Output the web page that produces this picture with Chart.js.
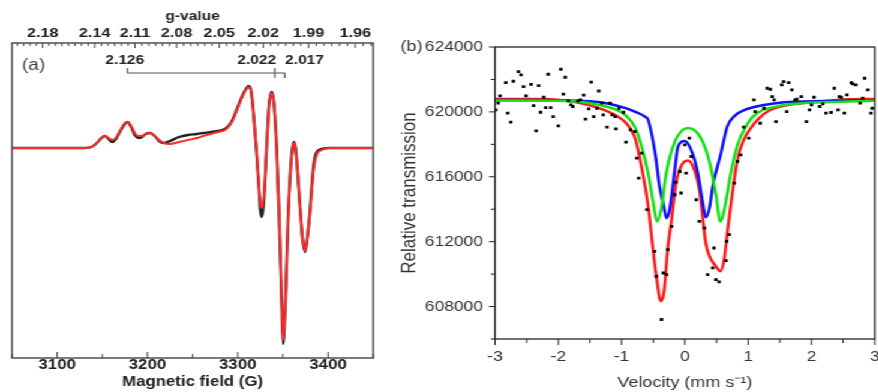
<!DOCTYPE html>
<html>
<head>
<meta charset="utf-8">
<script src="https://cdn.jsdelivr.net/npm/chart.js@4.4.1/dist/chart.umd.min.js"></script>
<style>
html, body { margin: 0; padding: 0; background: #fff; overflow: hidden; width: 878px; height: 392px; }
/* the source figure is stretched sideways, so the whole thing is drawn narrow and widened */
#wrap { position: absolute; left: 0; top: 0; width: 742px; height: 392px; transform: scaleX(1.2); transform-origin: 0 0; }
#epr { position: absolute; left: 0; top: 0; }
#moss { position: absolute; left: 325px; top: 0; }
</style>
</head>
<body>
<div id="wrap">
<canvas id="epr" width="325" height="392" style="width:325px;height:392px"></canvas>
<canvas id="moss" width="417" height="392" style="width:417px;height:392px"></canvas>
</div>
<script>
// ---- (a) EPR spectrum ----
var fieldG = [3050, 3100, 3130, 3138, 3144, 3149, 3153, 3157, 3161, 3165,
    3170, 3174, 3178, 3182, 3186, 3190, 3194, 3198, 3203, 3208,
    3213, 3218, 3225, 3235, 3245, 3255, 3262, 3270, 3278, 3286,
    3293, 3300, 3306, 3309, 3312, 3315, 3318, 3321, 3323.5, 3325,
    3326.5, 3328, 3329.5, 3332, 3334.5, 3336, 3337.6, 3339, 3340.5, 3343,
    3345.7, 3348, 3349.3, 3350.4, 3351.6, 3353, 3356, 3359, 3360.7, 3362.3,
    3364, 3365.3, 3369, 3371.5, 3374.5, 3377, 3380, 3383.7, 3387.4, 3393,
    3400, 3450];
var simSignal = [0, 0, 0, 1, 5, 10, 12, 10, 8, 10,
    18, 24, 26, 22, 15, 12, 12, 14, 15, 12,
    8, 5, 4, 6, 8, 10, 12, 14, 16, 18,
    25, 40, 53, 58, 61, 55, 28, -5, -39, -54,
    -60, -55, -42, 1, 41, 52, 55, 52, 41, 1,
    -65, -132, -175, -192, -178, -149, -65, -15, 0, 5,
    0, -12, -59, -88, -103, -90, -65, -25, -7, -2,
    0, 0];
var expSignal = [0, 0, 0, 1, 5, 10, 12, 9, 6, 9,
    17, 23, 26, 21, 13, 10, 11, 14, 15, 12,
    7, 5, 7, 11, 13, 14, 15, 16, 17, 19,
    26, 41, 54, 59, 62, 56, 28, -6, -41, -62,
    -69, -62, -45, 1, 41, 52, 56, 52, 41, 1,
    -65, -133, -177, -196, -180, -150, -64, -14, 1, 6,
    0, -12, -59, -89, -104, -90, -63, -20, -4, -1,
    0, 0];
var fieldTicks = [3100, 3200, 3300, 3400];
var gTicks = [2.18, 2.14, 2.11, 2.08, 2.05, 2.02, 1.99, 1.96];
var gFactor = 6723; // field (G) = gFactor / g
var markText = ['2.126', '2.022', '2.017'];
var markTextField = [3175, 3321, 3374];
var bracketField = [3178, 3341, 3352];

// ---- (b) Mossbauer spectrum ----
var dataVel = [-2.99, -2.95, -2.92, -2.83, -2.80, -2.75, -2.71, -2.63, -2.59, -2.55,
    -2.51, -2.43, -2.39, -2.35, -2.31, -2.28, -2.23, -2.20, -2.16, -2.12,
    -2.08, -2.00, -1.96, -1.92, -1.89, -1.84, -1.80, -1.77, -1.69, -1.65,
    -1.60, -1.57, -1.52, -1.48, -1.44, -1.39, -1.36, -1.31, -1.29, -1.23,
    -1.18, -1.15, -1.10, -1.09, -1.04, -0.97, -0.93, -0.86, -0.79, -0.76,
    -0.73, -0.68, -0.60, -0.48, -0.45, -0.37, -0.34, -0.29, -0.27, -0.21,
    -0.16, -0.14, -0.08, -0.06, 0.00, 0.02, 0.07, 0.10, 0.18, 0.23,
    0.31, 0.36, 0.44, 0.46, 0.49, 0.54, 0.65, 0.66, 0.70, 0.78,
    0.83, 0.88, 0.93, 1.01, 1.09, 1.11, 1.19, 1.25, 1.30, 1.35,
    1.38, 1.41, 1.44, 1.53, 1.56, 1.61, 1.64, 1.69, 1.74, 1.77,
    1.84, 1.92, 1.97, 2.00, 2.04, 2.13, 2.18, 2.23, 2.31, 2.36,
    2.42, 2.44, 2.47, 2.52, 2.56, 2.63, 2.65, 2.70, 2.77, 2.81,
    2.84, 2.89, 2.94, 2.96];
var dataTrans = [620123, 620535, 620985, 621800, 619920, 619365, 621890, 622480, 622280, 621560,
    620985, 621700, 620390, 618830, 621620, 619980, 620900, 620265, 622320, 620265,
    619710, 619140, 622630, 621090, 622135, 620680, 620430, 620330, 620680, 620740,
    621030, 619550, 620185, 621830, 619710, 620225, 621290, 620535, 619815, 619060,
    620535, 619815, 619710, 618950, 620225, 619980, 618135, 618890, 618790, 617150,
    615920, 617460, 613970, 611400, 609865, 607200, 610070, 609970, 611510, 612940,
    614890, 615670, 616325, 615000, 617970, 616230, 618380, 617250, 614585, 613250,
    612840, 609970, 610380, 611610, 609660, 609520, 610830, 612020, 612430, 615610,
    616940, 617350, 619060, 618380, 620740, 620020, 619300, 620225, 621455, 621395,
    620940, 620740, 619400, 621660, 621865, 620020, 621805, 621355, 620740, 620780,
    620940, 619405, 620125, 620430, 620900, 620330, 620490, 619920, 619960, 621455,
    620125, 620940, 620900, 619920, 621045, 621805, 621725, 621660, 620535, 620845,
    622075, 621355, 619920, 620225];

var fitVel = [-3, -2.2, -1.8, -1.5, -1.3, -1.1, -0.95, -0.85, -0.78, -0.69,
    -0.58, -0.5, -0.44, -0.38, -0.33, -0.27, -0.21, -0.14, -0.06, 0.05,
    0.15, 0.23, 0.28, 0.33, 0.39, 0.49, 0.56, 0.62, 0.67, 0.75,
    0.83, 0.93, 1.06, 1.17, 1.34, 1.6, 2.1, 2.6, 3];
var fitTrans = [620800, 620790, 620650, 620400, 620150, 619800, 619400, 618900, 618300, 616700,
    614200, 611400, 609550, 608330, 608900, 611600, 613350, 615600, 616650, 617000,
    616430, 615200, 613560, 611920, 611100, 610480, 610170, 610890, 612540, 615000,
    617050, 618280, 619100, 619600, 620100, 620400, 620630, 620780, 620800];

var siteAVel = [-3, -2, -1.5, -1.2, -0.95, -0.84, -0.72, -0.63, -0.58, -0.47,
    -0.40, -0.34, -0.29, -0.24, -0.16, -0.11, 0.0, 0.12, 0.2, 0.28,
    0.33, 0.39, 0.44, 0.57, 0.67, 0.8, 0.93, 1.25, 1.5, 2, 3];
var siteATrans = [620730, 620720, 620650, 620500, 620250, 620100, 619900, 619700, 619500, 617450,
    615400, 614300, 613450, 614000, 616400, 617850, 618200, 617450, 616300, 614450,
    613500, 614100, 615400, 617450, 619100, 619800, 620100, 620420, 620570, 620650, 620720];

var siteBVel = [-3, -2, -1.6, -1.36, -1.1, -0.94, -0.78, -0.69, -0.58, -0.5,
    -0.44, -0.37, -0.30, -0.16, 0.05, 0.25, 0.39, 0.49, 0.56, 0.64,
    0.72, 0.83, 0.98, 1.06, 1.22, 1.42, 1.69, 1.95, 2.47, 3];
var siteBTrans = [620700, 620680, 620600, 620430, 620150, 619800, 619000, 617950, 616200, 614400,
    613250, 614100, 616100, 618150, 619000, 618400, 616900, 614900, 613250, 614300,
    616100, 617950, 619200, 619650, 620100, 620310, 620480, 620570, 620630, 620680];

var velTicks = [-3, -2, -1, 0, 1, 2, 3];
var transTicks = [608000, 612000, 616000, 620000, 624000];

function pairs(xs, ys) {
    return xs.map(function (v, i) { return {x: v, y: ys[i]}; });
}

var eprFrame = {
    id: 'eprFrame',
    afterDraw: function (chart) {
        var ctx = chart.ctx, a = chart.chartArea, x = chart.scales.x;
        ctx.save();
        ctx.strokeStyle = '#444';
        ctx.lineWidth = 1.4;
        ctx.strokeRect(a.left, a.top, a.right - a.left, a.bottom - a.top);
        ctx.lineWidth = 1;
        // inward ticks on the field axis
        for (var f = 3050; f <= 3450; f += 50) {
            var px = x.getPixelForValue(f);
            var len = f % 100 === 0 ? 6 : 4;
            ctx.beginPath();
            ctx.moveTo(px, a.bottom);
            ctx.lineTo(px, a.bottom - len);
            ctx.stroke();
        }
        // inward ticks on the g axis
        for (var i = 0; i <= 50; i++) {
            var g = 2.20 - i * 0.005;
            var gx = x.getPixelForValue(gFactor / g);
            if (gx <= a.left || gx >= a.right) continue;
            var major = gTicks.some(function (t) { return Math.abs(t - g) < 1e-6; });
            ctx.beginPath();
            ctx.moveTo(gx, a.top);
            ctx.lineTo(gx, a.top + (major ? 5 : 3));
            ctx.stroke();
        }
        // g markers
        ctx.fillStyle = '#222';
        ctx.font = 'bold 13px "Liberation Sans", Arial, sans-serif';
        ctx.textAlign = 'center';
        ctx.textBaseline = 'middle';
        markText.forEach(function (t, k) {
            ctx.fillText(t, x.getPixelForValue(markTextField[k]), 60);
        });
        var x0 = x.getPixelForValue(bracketField[0]);
        var x1 = x.getPixelForValue(bracketField[1]);
        var x2 = x.getPixelForValue(bracketField[2]);
        ctx.strokeStyle = '#555';
        ctx.lineWidth = 1.2;
        ctx.beginPath();
        ctx.moveTo(x0, 68); ctx.lineTo(x0, 73); ctx.lineTo(x2, 73); ctx.lineTo(x2, 78);
        ctx.moveTo(x1, 68); ctx.lineTo(x1, 78);
        ctx.stroke();
        ctx.fillStyle = '#444';
        ctx.font = '16px "Liberation Sans", Arial, sans-serif';
        ctx.fillText('(a)', 28, 66);
        ctx.restore();
    }
};

var mossFrame = {
    id: 'mossFrame',
    afterDraw: function (chart) {
        var ctx = chart.ctx, a = chart.chartArea, xs = chart.scales.x, ys = chart.scales.y;
        ctx.save();
        ctx.strokeStyle = '#222';
        ctx.lineWidth = 1.3;
        ctx.strokeRect(a.left, a.top, a.right - a.left, a.bottom - a.top);
        ctx.lineWidth = 1;
        for (var t = 606000; t <= 624000; t += 2000) {
            var py = ys.getPixelForValue(t);
            ctx.beginPath();
            ctx.moveTo(a.left, py);
            ctx.lineTo(a.left - (t % 4000 === 0 ? 5 : 3.5), py);
            ctx.stroke();
        }
        for (var v = -3; v <= 3.001; v += 0.5) {
            var px = xs.getPixelForValue(v);
            ctx.beginPath();
            ctx.moveTo(px, a.bottom);
            ctx.lineTo(px, a.bottom + (Math.abs(v % 1) < 1e-6 ? 6 : 4));
            ctx.stroke();
        }
        ctx.fillStyle = '#333';
        ctx.font = '15px "Liberation Sans", Arial, sans-serif';
        ctx.textAlign = 'center';
        ctx.textBaseline = 'middle';
        ctx.fillText('(b)', 18, 47);
        ctx.restore();
    }
};

var boldFont = function (size) {
    return {family: '"Liberation Sans", Arial, sans-serif', size: size, weight: 'bold', lineHeight: 1.2};
};
var plainFont = function (size) {
    return {family: '"Liberation Sans", Arial, sans-serif', size: size, lineHeight: 1.2};
};

new Chart(document.getElementById('epr'), {
    type: 'line',
    data: {
        datasets: [
            {
                label: 'simulated',
                data: pairs(fieldG, simSignal),
                borderColor: '#ff2b2b',
                borderWidth: 2,
                pointRadius: 0,
                cubicInterpolationMode: 'monotone'
            },
            {
                label: 'experimental',
                data: pairs(fieldG, expSignal),
                borderColor: '#222',
                borderWidth: 2.4,
                pointRadius: 0,
                cubicInterpolationMode: 'monotone'
            }
        ]
    },
    options: {
        responsive: false,
        animation: false,
        layout: {padding: {left: 10, right: 14, top: 0, bottom: 0}},
        plugins: {legend: {display: false}, tooltip: {enabled: false}},
        scales: {
            x: {
                type: 'linear', position: 'bottom', min: 3050, max: 3450,
                afterBuildTicks: function (s) { s.ticks = fieldTicks.map(function (v) { return {value: v}; }); },
                afterFit: function (s) { s.height = 34; },
                grid: {display: false, drawTicks: false},
                border: {display: false},
                ticks: {padding: 0, color: '#222', autoSkip: false, maxRotation: 0,
                    font: {family: '"Liberation Sans", Arial, sans-serif', size: 14, weight: 'bold', lineHeight: 1},
                    callback: function (v) { return String(v); }},
                title: {display: true, text: 'Magnetic field (G)', color: '#222', font: boldFont(14), padding: {top: 0, bottom: 1}}
            },
            gTop: {
                type: 'linear', position: 'top', min: 3050, max: 3450,
                afterBuildTicks: function (s) { s.ticks = gTicks.map(function (g) { return {value: gFactor / g}; }); },
                afterFit: function (s) { s.height = 43; },
                grid: {display: false, drawTicks: false},
                border: {display: false},
                ticks: {padding: 2, color: '#222', autoSkip: false, maxRotation: 0, font: boldFont(13.5),
                    callback: function (v, i) { return gTicks[i].toFixed(2); }},
                title: {display: true, text: 'g-value', color: '#222', font: boldFont(13), padding: {top: 9, bottom: 0}}
            },
            y: {display: false, min: -210, max: 105}
        }
    },
    plugins: [eprFrame]
});

new Chart(document.getElementById('moss'), {
    type: 'line',
    data: {
        datasets: [
            {
                type: 'scatter',
                label: 'data',
                data: pairs(dataVel, dataTrans),
                pointStyle: 'rect',
                pointRadius: 2,
                pointBorderWidth: 0,
                pointBackgroundColor: '#000',
                showLine: false
            },
            {
                label: 'site 2',
                data: pairs(siteBVel, siteBTrans),
                borderColor: '#14e014',
                borderWidth: 2.5,
                pointRadius: 0,
                cubicInterpolationMode: 'monotone'
            },
            {
                label: 'site 1',
                data: pairs(siteAVel, siteATrans),
                borderColor: '#1010ff',
                borderWidth: 2.5,
                pointRadius: 0,
                cubicInterpolationMode: 'monotone'
            },
            {
                label: 'fit',
                data: pairs(fitVel, fitTrans),
                borderColor: '#ff1a1a',
                borderWidth: 2.5,
                pointRadius: 0,
                cubicInterpolationMode: 'monotone'
            }
        ]
    },
    options: {
        responsive: false,
        animation: false,
        layout: {padding: {left: 0, right: 9.5, top: 47, bottom: 0}},
        plugins: {legend: {display: false}, tooltip: {enabled: false}},
        scales: {
            x: {
                type: 'linear', min: -3, max: 3,
                afterBuildTicks: function (s) { s.ticks = velTicks.map(function (v) { return {value: v}; }); },
                afterFit: function (s) { s.height = 53; },
                grid: {display: false, drawTicks: false},
                border: {display: false},
                ticks: {padding: 9, color: '#333', autoSkip: false, maxRotation: 0, font: plainFont(14.5)},
                title: {display: true, text: 'Velocity (mm s\u207B\u00B9)', color: '#333', font: plainFont(15), padding: {top: 0, bottom: 0}}
            },
            y: {
                type: 'linear', min: 606000, max: 624000,
                afterBuildTicks: function (s) { s.ticks = transTicks.map(function (v) { return {value: v}; }); },
                afterFit: function (s) { s.width = 87.5; },
                grid: {display: false, drawTicks: false},
                border: {display: false},
                ticks: {padding: 10, color: '#333', autoSkip: false, font: plainFont(14.5),
                    callback: function (v) { return String(v); }},
                title: {display: true, text: 'Relative transmission', color: '#333', font: plainFont(17), padding: {top: 6.5, bottom: 0}}
            }
        }
    },
    plugins: [mossFrame]
});
</script>
</body>
</html>
